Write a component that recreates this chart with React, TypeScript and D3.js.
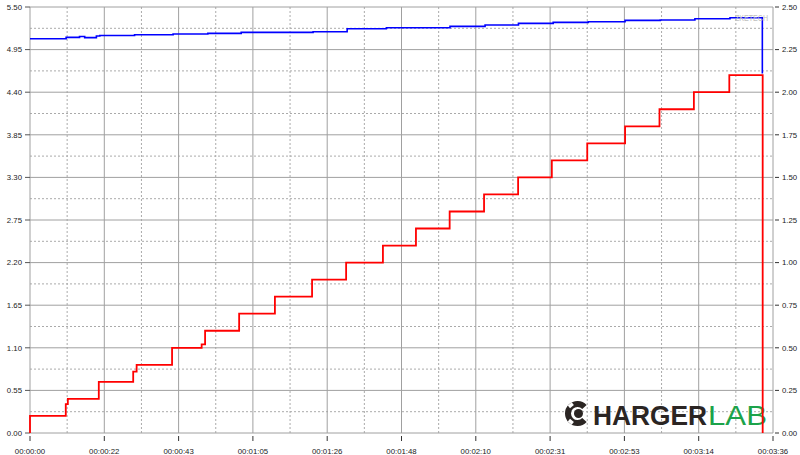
import React from "react";
import * as d3 from "d3";

const timeLabels = ["00:00:00", "00:00:22", "00:00:43", "00:01:05", "00:01:26", "00:01:48", "00:02:10", "00:02:31", "00:02:53", "00:03:14", "00:03:36"];
const voltLabels = ["0.00", "0.55", "1.10", "1.65", "2.20", "2.75", "3.30", "3.85", "4.40", "4.95", "5.50"];
const currLabels = ["0.00", "0.25", "0.50", "0.75", "1.00", "1.25", "1.50", "1.75", "2.00", "2.25", "2.50"];

// seconds
const voltTimes = [0, 10.5, 14.4, 15.9, 19.3, 20.3, 30.4, 41.6, 51.7, 61.4, 82.3, 92.2, 103.6, 122.1, 132.3, 142, 152.1, 162.3, 173, 183.2, 193.3, 203.5, 212.9];
const voltValues = [5.09, 5.108, 5.12, 5.104, 5.126, 5.133, 5.142, 5.151, 5.159, 5.172, 5.181, 5.22, 5.233, 5.25, 5.268, 5.288, 5.301, 5.31, 5.327, 5.332, 5.349, 5.362, 4.64];

const currTimes = [0, 0, 10.4, 11.0, 20, 30, 31, 41.3, 49.9, 50.9, 60.8, 71.2, 82, 91.9, 102.6, 112.2, 122, 132, 141.9, 151.7, 162, 173, 183, 193, 203.3, 213];
const currValues = [0, 0.1, 0.17, 0.2, 0.3, 0.36, 0.4, 0.5, 0.52, 0.6, 0.7, 0.8, 0.9, 1.0, 1.1, 1.2, 1.3, 1.4, 1.5, 1.6, 1.7, 1.8, 1.9, 2.0, 2.1, 0];

const W = 800, H = 455;
const L = 30, R = 773, T = 7, B = 433;
const TMAX = 216, VMAX = 5.5, IMAX = 2.5;

export default function App() {
  const x = d3.scaleLinear().domain([0, TMAX]).range([L, R]);
  const yV = d3.scaleLinear().domain([0, VMAX]).range([B, T]);
  const yI = d3.scaleLinear().domain([0, IMAX]).range([B, T]);

  const majorX = timeLabels.map((_, i) => (TMAX * i) / 10);
  const minorX = d3.range(10).map((i) => (TMAX * (i + 0.5)) / 10);
  const majorY = voltLabels.map((_, i) => (VMAX * i) / 10);
  const minorY = d3.range(10).map((i) => (VMAX * (i + 0.5)) / 10);

  const vLine = d3.line<number>().x((_, i) => x(voltTimes[i])).y((d) => yV(d)).curve(d3.curveStepAfter);
  const iLine = d3.line<number>().x((_, i) => x(currTimes[i])).y((d) => yI(d)).curve(d3.curveStepAfter);

  const font = "'Liberation Sans', Arial, sans-serif";
  const ix = 577.5, iy = 413.5;
  const arc = d3.arc()({ innerRadius: 6.5, outerRadius: 12.5, startAngle: 0.75, endAngle: Math.PI * 2 - 0.75 } as any) || "";

  return (
    <svg width={W} height={H} style={{ position: "absolute", left: 0, top: 0, background: "#fff" }} fontFamily={font}>
      <rect x={0} y={0} width={W} height={H} fill="#fff" />
      {minorX.map((t, i) => (
        <line key={"mx" + i} x1={x(t)} x2={x(t)} y1={T} y2={B} stroke="#aaa" strokeWidth={1} strokeDasharray="2,2" />
      ))}
      {minorY.map((v, i) => (
        <line key={"my" + i} x1={L} x2={R} y1={yV(v)} y2={yV(v)} stroke="#aaa" strokeWidth={1} strokeDasharray="2,2" />
      ))}
      {majorX.map((t, i) => (
        <line key={"Mx" + i} x1={x(t)} x2={x(t)} y1={T} y2={B} stroke="#a0a0a0" strokeWidth={1} />
      ))}
      {majorY.map((v, i) => (
        <line key={"My" + i} x1={L} x2={R} y1={yV(v)} y2={yV(v)} stroke="#a0a0a0" strokeWidth={1} />
      ))}
      {majorY.map((v, i) => (
        <g key={"la" + i}>
          <line x1={L - 5} x2={L} y1={yV(v)} y2={yV(v)} stroke="#555" />
          <text x={L - 8} y={yV(v)} dy="0.35em" textAnchor="end" fontSize={7.8} fill="#222">{voltLabels[i]}</text>
        </g>
      ))}
      {currLabels.map((_, i) => {
        const v = (IMAX * i) / 10;
        return (
          <g key={"ra" + i}>
            <line x1={R + 2} x2={R + 6} y1={yI(v)} y2={yI(v)} stroke="#333" />
            <text x={R + 9} y={yI(v)} dy="0.35em" textAnchor="start" fontSize={7.8} fill="#222">{currLabels[i]}</text>
          </g>
        );
      })}
      {majorX.map((t, i) => (
        <g key={"ba" + i}>
          <line x1={x(t)} x2={x(t)} y1={B + 3} y2={B + 8} stroke="#333" />
          <text x={x(t)} y={B + 18} dy="0.35em" textAnchor="middle" fontSize={7.8} fill="#222">{timeLabels[i]}</text>
        </g>
      ))}
      <g>
        <g transform={`translate(${ix},${iy}) rotate(90)`}>
          <path d={arc} fill="#2b2523" transform="rotate(0)" />
        </g>
        <circle cx={ix + 1} cy={iy} r={4.5} fill="#2b2523" />
        <rect x={ix - 9} y={iy - 10} width={5} height={3.5} fill="#fff" transform={`rotate(-40 ${ix - 6.5} ${iy - 8})`} />
        <rect x={ix - 9} y={iy + 6.5} width={5} height={3.5} fill="#fff" transform={`rotate(40 ${ix - 6.5} ${iy + 8})`} />
        <text x={593} y={424.5} fontSize={27.5} fontWeight="bold" fill="#2b2523" textLength={114} lengthAdjust="spacingAndGlyphs" fontFamily={font}>HARGER</text>
        <text x={708} y={424.5} fontSize={27.5} fill="#1ca34a" textLength={59} lengthAdjust="spacingAndGlyphs" fontFamily={font}>LAB</text>
      </g>
      <path d={vLine(voltValues) || ""} fill="none" stroke="#0000ff" strokeWidth={1.6} />
      <path d={iLine(currValues) || ""} fill="none" stroke="#ff0000" strokeWidth={1.8} />
      <text x={735} y={18.5} dy="0.35em" fontSize={8.5} fill="#c0c0c0" textLength={33} lengthAdjust="spacingAndGlyphs">ZKETECH</text>
    </svg>
  );
}
